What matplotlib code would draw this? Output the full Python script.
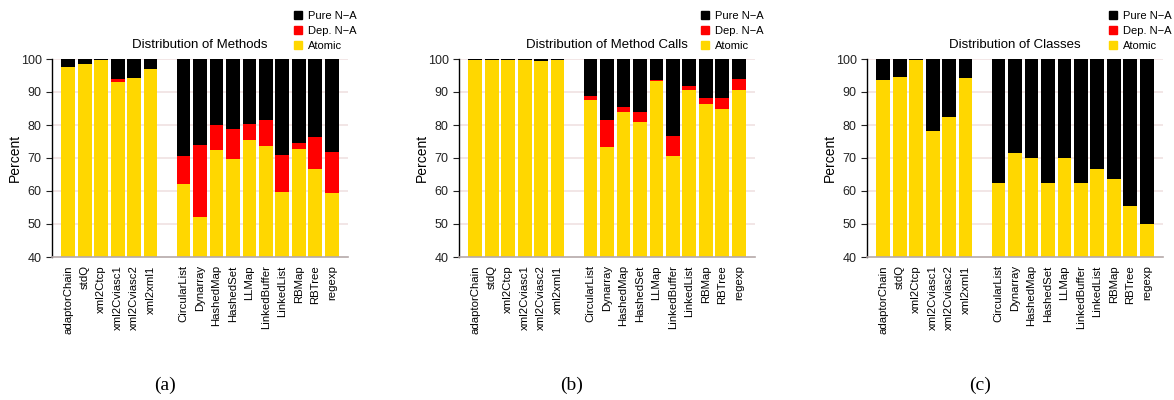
import matplotlib
matplotlib.use("Agg")
import matplotlib.pyplot as plt
from matplotlib.patches import Patch
import numpy as np

plt.rcParams['font.family'] = ['Liberation Sans', 'DejaVu Sans']

group1 = ["adaptorChain", "stdQ", "xml2Ctcp", "xml2Cviasc1", "xml2Cviasc2", "xml2xml1"]
group2 = ["CircularList", "Dynarray", "HashedMap", "HashedSet", "LLMap", "LinkedBuffer",
          "LinkedList", "RBMap", "RBTree", "regexp"]
categories = group1 + group2

titles = ["Distribution of Methods", "Distribution of Method Calls", "Distribution of Classes"]
captions = ["(a)", "(b)", "(c)"]

# Atomic percentages
methods_atomic = [97.6, 98.5, 99.7, 93.0, 94.2, 97.0,
                  62.1, 52.0, 72.4, 69.6, 75.4, 73.6, 59.7, 72.7, 66.6, 59.3]
# Dep. N-A percentages
methods_dep = [0.0, 0.0, 0.0, 0.9, 0.0, 0.0,
               8.5, 21.9, 7.6, 9.2, 4.9, 8.0, 11.2, 1.8, 9.7, 12.5]

calls_atomic = [99.7, 99.7, 99.7, 99.7, 99.4, 99.8,
                87.6, 73.3, 83.9, 80.9, 93.3, 70.6, 90.6, 86.3, 84.8, 90.6]
calls_dep = [0.0, 0.0, 0.0, 0.0, 0.0, 0.0,
             1.2, 8.2, 1.5, 3.0, 0.3, 6.0, 1.2, 1.9, 3.4, 3.3]

classes_atomic = [93.6, 94.5, 99.7, 78.1, 82.4, 94.2,
                  62.5, 71.4, 70.0, 62.5, 70.0, 62.5, 66.7, 63.6, 55.6, 50.0]
classes_dep = [0.0] * 16

series = [(methods_atomic, methods_dep), (calls_atomic, calls_dep), (classes_atomic, classes_dep)]

YELLOW = "#FFD700"
RED = "#FF0000"
BLACK = "#000000"

fig = plt.figure(figsize=(11.74, 4.0), dpi=100)
lefts_px = [52, 459, 867]
width_px = 296
lefts = [l / 1174 for l in lefts_px]
width = width_px / 1174
bottom = 1 - 257 / 400
height = 198 / 400

positions = list(range(1, 7)) + list(range(8, 18))

for k in range(3):
    ax = fig.add_axes([lefts[k], bottom, width, height])
    atomic = np.array(series[k][0])
    dep = np.array(series[k][1])
    pure = 100 - atomic - dep
    ax.bar(positions, atomic, width=0.84, color=YELLOW, bottom=0, zorder=2)
    ax.bar(positions, dep, width=0.84, color=RED, bottom=atomic, zorder=2)
    ax.bar(positions, pure, width=0.84, color=BLACK, bottom=atomic + dep, zorder=2)
    ax.set_ylim(40, 100)
    ax.set_xlim(0.02, 17.98)
    ax.set_yticks([40, 50, 60, 70, 80, 90, 100])
    ax.tick_params(axis='y', labelsize=9, length=4, colors='#222222', direction='out')
    ax.tick_params(axis='x', length=0, labelsize=8.2, pad=6)
    ax.set_xticks(positions)
    ax.set_xticklabels(categories, rotation=90)
    for v in [50, 60, 70, 80, 90, 100]:
        ax.axhline(v, color='#f0e2e2', lw=1.2, zorder=1)
    for s in ['top', 'right']:
        ax.spines[s].set_visible(False)
    ax.spines['left'].set_color('#000000')
    ax.spines['left'].set_linewidth(1.0)
    ax.spines['bottom'].set_color('#b5a9a9')
    ax.spines['bottom'].set_linewidth(1.2)
    ax.set_ylabel("Percent", fontsize=10, labelpad=-1)
    ax.set_title(titles[k], fontsize=9.5, pad=8)
    handles = [Patch(color=BLACK, label="Pure N\u2212A"),
               Patch(color=RED, label="Dep. N\u2212A"),
               Patch(color=YELLOW, label="Atomic")]
    right_px = lefts_px[k] + width_px
    ax.legend(handles=handles, loc='upper left',
              bbox_to_anchor=((right_px - 54) / 1174, 1 - 11 / 400),
              bbox_transform=fig.transFigure,
              frameon=False, fontsize=8, handlelength=0.7, handleheight=0.7,
              handletextpad=0.6, labelspacing=0.45, borderaxespad=0.0,
              borderpad=0.0)
    fig.text(lefts[k] + width / 2 - 35 / 1174, 1 - 385 / 400, captions[k],
             ha='center', va='center', fontsize=14, family='Liberation Serif')

fig.savefig("out.png", dpi=100)
